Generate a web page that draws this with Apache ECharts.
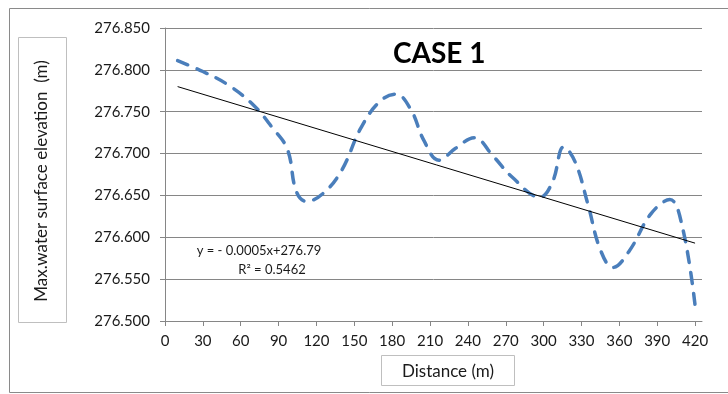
<!DOCTYPE html>
<html>
<head>
<meta charset="utf-8">
<script src="https://cdn.jsdelivr.net/npm/echarts@6/dist/echarts.min.js"></script>
<style>
html,body{margin:0;padding:0;background:#fff;}
#c{width:728px;height:394px;}
</style>
</head>
<body>
<div id="c"></div>
<script>
// Distance (m) of the measured water surface profile
var distance = [10, 30, 50, 70, 85, 97, 104, 112, 125, 140, 155, 170, 183, 195, 205, 217, 230, 245, 260, 275, 297, 307, 316, 325, 335, 345, 355, 368, 385, 400, 410, 420];
// Max. water surface elevation (m)
var elevation = [276.811, 276.798, 276.782, 276.758, 276.731, 276.705, 276.655, 276.643, 276.652, 276.680, 276.730, 276.762, 276.771, 276.752, 276.716, 276.692, 276.706, 276.719, 276.697, 276.672, 276.648, 276.666, 276.708, 276.690, 276.640, 276.585, 276.564, 276.584, 276.628, 276.645, 276.612, 276.519];
// Linear trend line end points
var trendX = [10, 420];
var trendY = [276.780, 276.593];
// Axis ticks
var xTicks = [0, 30, 60, 90, 120, 150, 180, 210, 240, 270, 300, 330, 360, 390, 420];
var yTicks = [276.500, 276.550, 276.600, 276.650, 276.700, 276.750, 276.800, 276.850];
var titleText = 'CASE 1';
var xName = 'Distance (m)';
var yName = 'Max.water surface elevation  (m)';
var eqText = 'y = - 0.0005x+276.79';
var r2Text = 'R\u00B2 = 0.5462';

var FONT = 'Lato, "Open Sans", sans-serif';
var chart = echarts.init(document.getElementById('c'));
var mainData = distance.map(function (d, i) { return [d, elevation[i]]; });
var trendData = trendX.map(function (d, i) { return [d, trendY[i]]; });

chart.setOption({
  animation: false,
  backgroundColor: '#fff',
  title: {
    text: titleText,
    left: 388, top: 35,
    textStyle: { fontFamily: FONT, fontSize: 28, fontWeight: 'bold', color: '#000' }
  },
  grid: { left: 165, right: 26, top: 28, bottom: 73 },
  xAxis: {
    type: 'value', min: 0, max: 425.5,
    axisLine: { show: true, lineStyle: { color: '#868686', width: 1 } },
    axisTick: { show: true, length: 5, customValues: xTicks, lineStyle: { color: '#868686' } },
    axisLabel: { customValues: xTicks, margin: 13, fontFamily: FONT, fontSize: 15, color: '#1a1a1a' },
    splitLine: { show: false }
  },
  yAxis: {
    type: 'value', min: yTicks[0], max: yTicks[yTicks.length - 1], interval: 0.05,
    axisLine: { show: true, lineStyle: { color: '#868686', width: 1 } },
    axisTick: { show: true, length: 5, lineStyle: { color: '#868686' } },
    axisLabel: { margin: 15, fontFamily: FONT, fontSize: 15, color: '#1a1a1a',
      formatter: function (v) { return v.toFixed(3); } },
    splitLine: { show: true, lineStyle: { color: '#868686', width: 1 } }
  },
  series: [
    {
      type: 'line', data: mainData, smooth: 0.4, symbol: 'none',
      lineStyle: { color: '#4A7EBB', width: 3.5, type: [11, 10], cap: 'round' },
      z: 3
    },
    {
      type: 'line', data: trendData, symbol: 'none',
      lineStyle: { color: '#000', width: 1 },
      z: 4
    }
  ],
  graphic: [
    { type: 'rect', shape: { x: 9.5, y: 8.5, width: 740, height: 384 },
      style: { fill: 'none', stroke: '#8a8a8a', lineWidth: 1 }, z: -1 },
    { type: 'rect', shape: { x: 18.5, y: 37.5, width: 48, height: 285 },
      style: { fill: '#fff', stroke: '#bfbfbf', lineWidth: 1 } },
    { type: 'text', x: 42, y: 181, rotation: Math.PI / 2,
      style: { text: yName, fontFamily: FONT, fontSize: 17, fill: '#1a1a1a',
        textAlign: 'center', textVerticalAlign: 'middle' } },
    { type: 'rect', shape: { x: 381.5, y: 355.5, width: 133, height: 30 },
      style: { fill: '#fff', stroke: '#bfbfbf', lineWidth: 1 } },
    { type: 'text', x: 448, y: 372,
      style: { text: xName, fontFamily: FONT, fontSize: 17, fill: '#1a1a1a',
        textAlign: 'center', textVerticalAlign: 'middle' } },
    { type: 'text', x: 259, y: 251, z: 10,
      style: { text: eqText, fontFamily: FONT, fontSize: 13, fill: '#1a1a1a',
        textAlign: 'center', textVerticalAlign: 'middle' } },
    { type: 'text', x: 272, y: 270, z: 10,
      style: { text: r2Text, fontFamily: FONT, fontSize: 13, fill: '#1a1a1a',
        textAlign: 'center', textVerticalAlign: 'middle' } }
  ]
});
</script>
</body>
</html>
